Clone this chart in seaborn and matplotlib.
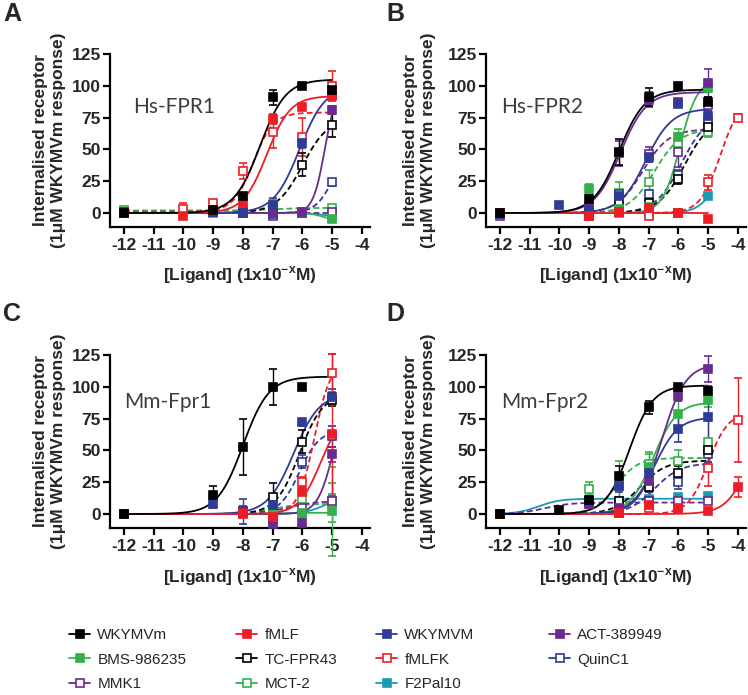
import numpy as np
import seaborn as sns
import matplotlib.pyplot as plt
from matplotlib.lines import Line2D

nan = np.nan

# log10 molar concentrations used in the assays
DOSES = [-12, -10, -9, -8, -7, -6, -5, -4]

LIGANDS = ["WKYMVm", "fMLF", "WKYMVM", "ACT-389949", "BMS-986235", "TC-FPR43",
           "fMLFK", "QuinC1", "MMK1", "MCT-2", "F2Pal10"]

# ---- Hs-FPR1 -------------------------------------------------------------
hs_fpr1_mean = {
    "WKYMVm":     [0, nan, 2, 13, 91, 100, 97, nan],
    "fMLF":       [0, -2, 2, 8, 74, 83, 92, nan],
    "WKYMVM":     [0, nan, 1, 0, 6, 55, 93, nan],
    "ACT-389949": [1, nan, 1, 0, 0, 1, 81, nan],
    "BMS-986235": [0, nan, 1, 1, 7, 1, -5, nan],
    "TC-FPR43":   [0, nan, 1, 1, 4, 38, 69, nan],
    "fMLFK":      [1, 3, 8, 33, 64, 60, 100, nan],
    "QuinC1":     [0, nan, 1, 0, -1, 0, 24, nan],
    "MMK1":       [1, nan, 1, 0, -2, 1, 1, nan],
    "MCT-2":      [2, nan, 2, 2, 3, 1, 4, nan],
    "F2Pal10":    [0, nan, 0, 0, -1, 0, -3, nan],
}
hs_fpr1_err = {
    "WKYMVm":     [1, 0, 1, 3, 6, 2, 3, 0],
    "fMLF":       [1, 2, 1, 3, 4, 2, 3, 0],
    "WKYMVM":     [1, 0, 1, 1, 6, 4, 3, 0],
    "ACT-389949": [1, 0, 1, 1, 1, 1, 3, 0],
    "BMS-986235": [1, 0, 1, 1, 3, 1, 2, 0],
    "TC-FPR43":   [1, 0, 1, 1, 2, 9, 9, 0],
    "fMLFK":      [1, 5, 2, 6, 13, 15, 12, 0],
    "QuinC1":     [1, 0, 1, 1, 1, 1, 3, 0],
    "MMK1":       [1, 0, 1, 1, 1, 1, 1, 0],
    "MCT-2":      [1, 0, 1, 1, 1, 1, 2, 0],
    "F2Pal10":    [1, 0, 1, 1, 1, 1, 1, 0],
}
# bottom, top, logEC50, hill
hs_fpr1_fit = {
    "WKYMVm":     (0, 105, -7.43, 1.0),
    "fMLF":       (0, 92, -7.2, 1.1),
    "WKYMVM":     (0, 100, -6.1, 1.0),
    "ACT-389949": (0, 100, -5.25, 2.2),
    "BMS-986235": (0, -6, -5.3, 2.0),
    "TC-FPR43":   (0, 75, -6.0, 1.0),
    "fMLFK":      (1, 79, -7.65, 1.3),
    "QuinC1":     (0, 50, -5.0, 1.5),
    "MMK1":       (0, 0, -7.0, 1.0),
    "MCT-2":      (2, 4, -7.0, 1.0),
    "F2Pal10":    (0, -3, -5.3, 1.5),
}

# ---- Hs-FPR2 -------------------------------------------------------------
hs_fpr2_mean = {
    "WKYMVm":     [0, nan, 11, 48, 91, 100, 87, nan],
    "fMLF":       [0, nan, -2, 1, 4, 0, -5, nan],
    "WKYMVM":     [-1, 6, 2, 13, 44, 86, 76, nan],
    "ACT-389949": [-1, nan, 5, 47, 89, 87, 102, nan],
    "BMS-986235": [0, nan, 19, 3, 5, 60, 98, nan],
    "TC-FPR43":   [0, nan, 1, 8, 8, 27, 68, nan],
    "fMLFK":      [0, nan, -2, 1, -2, 0, 24, 75],
    "QuinC1":     [0, nan, 1, 15, 15, 30, 72, nan],
    "MMK1":       [-2, nan, -2, 12, 46, 48, 85, nan],
    "MCT-2":      [0, nan, 2, 16, 24, 55, 64, nan],
    "F2Pal10":    [0, nan, 0, 0, -1, 0, 13, nan],
}
hs_fpr2_err = {
    "WKYMVm":     [1, 0, 3, 10, 7, 2, 4, 0],
    "fMLF":       [1, 0, 1, 1, 2, 1, 1, 0],
    "WKYMVM":     [1, 0, 2, 3, 4, 3, 4, 0],
    "ACT-389949": [1, 0, 2, 10, 6, 3, 11, 0],
    "BMS-986235": [1, 0, 4, 2, 2, 6, 3, 0],
    "TC-FPR43":   [1, 0, 1, 1, 2, 4, 5, 0],
    "fMLFK":      [1, 0, 1, 1, 2, 1, 6, 3],
    "QuinC1":     [1, 0, 1, 3, 3, 4, 4, 0],
    "MMK1":       [1, 0, 1, 3, 6, 12, 5, 0],
    "MCT-2":      [1, 0, 1, 8, 10, 8, 4, 0],
    "F2Pal10":    [1, 0, 1, 1, 1, 1, 1, 0],
}
hs_fpr2_fit = {
    "WKYMVm":     (0, 97, -8.0, 1.0),
    "fMLF":       (0, 0, -7.0, 1.0),
    "WKYMVM":     (0, 82, -7.1, 1.0),
    "ACT-389949": (0, 95, -7.95, 1.0),
    "BMS-986235": (0, 105, -5.95, 1.5),
    "TC-FPR43":   (0, 75, -5.8, 1.0),
    "fMLFK":      (0, 90, -4.6, 1.3),
    "QuinC1":     (0, 78, -5.9, 1.0),
    "MMK1":       (0, 66, -7.2, 1.0),
    "MCT-2":      (0, 66, -6.8, 1.0),
    "F2Pal10":    (0, 30, -4.9, 1.5),
}

# ---- Mm-Fpr1 -------------------------------------------------------------
mm_fpr1_mean = {
    "WKYMVm":     [0, nan, 15, 53, 100, 100, nan, nan],
    "fMLF":       [0, nan, nan, 1, -2, 17, 63, nan],
    "WKYMVM":     [0, nan, 8, 2, 7, 72, 92, nan],
    "ACT-389949": [0, nan, nan, 1, -8, -7, 47, nan],
    "BMS-986235": [0, nan, nan, 1, 2, 1, 2, nan],
    "TC-FPR43":   [0, nan, nan, 1, 13, 57, 90, nan],
    "fMLFK":      [0, nan, nan, 0, -1, 25, 111, nan],
    "QuinC1":     [0, nan, nan, 2, -5, 41, 61, nan],
    "MMK1":       [0, nan, nan, 1, -3, 5, 10, nan],
    "MCT-2":      [0, nan, nan, 1, 3, 12, 9, nan],
    "F2Pal10":    [0, nan, nan, 1, 0, 0, 10, nan],
}
mm_fpr1_err = {
    "WKYMVm":     [1, 0, 7, 22, 14, 1, 0, 0],
    "fMLF":       [1, 0, 0, 1, 2, 4, 63, 0],
    "WKYMVM":     [1, 0, 3, 10, 5, 3, 6, 0],
    "ACT-389949": [1, 0, 0, 1, 2, 2, 6, 0],
    "BMS-986235": [1, 0, 0, 1, 2, 2, 35, 0],
    "TC-FPR43":   [1, 0, 0, 1, 11, 9, 5, 0],
    "fMLFK":      [1, 0, 0, 1, 1, 4, 15, 0],
    "QuinC1":     [1, 0, 0, 4, 2, 5, 8, 0],
    "MMK1":       [1, 0, 0, 1, 1, 2, 4, 0],
    "MCT-2":      [1, 0, 0, 1, 2, 10, 15, 0],
    "F2Pal10":    [1, 0, 0, 1, 1, 1, 6, 0],
}
mm_fpr1_fit = {
    "WKYMVm":     (0, 108, -8.0, 1.0),
    "fMLF":       (0, 80, -5.4, 1.2),
    "WKYMVM":     (0, 95, -6.3, 1.0),
    "ACT-389949": (0, 100, -4.95, 1.6),
    "BMS-986235": (0, 1, -7.0, 1.0),
    "TC-FPR43":   (0, 95, -6.1, 1.1),
    "fMLFK":      (0, 120, -5.6, 1.6),
    "QuinC1":     (0, 66, -6.1, 1.3),
    "MMK1":       (0, 10, -6.5, 1.0),
    "MCT-2":      (0, 8, -7.0, 1.0),
    "F2Pal10":    (0, 15, -5.2, 1.2),
}

# ---- Mm-Fpr2 -------------------------------------------------------------
mm_fpr2_mean = {
    "WKYMVm":     [0, 3, 11, 30, 84, 100, 97, nan],
    "fMLF":       [0, nan, nan, 1, 7, 4, 2, 21],
    "WKYMVM":     [0, nan, 10, 22, 32, 67, 76, nan],
    "ACT-389949": [0, nan, 8, 5, 26, 93, 114, nan],
    "BMS-986235": [0, nan, 10, 22, 37, 79, 90, nan],
    "TC-FPR43":   [0, nan, nan, 10, 21, 32, 50, nan],
    "fMLFK":      [0, nan, nan, 1, 5, 5, 36, 74],
    "QuinC1":     [0, nan, nan, 8, 10, 25, 47, nan],
    "MMK1":       [0, nan, 8, 8, 10, 10, 10, nan],
    "MCT-2":      [0, nan, 20, 22, 39, 42, 57, nan],
    "F2Pal10":    [0, nan, nan, 10, 12, 13, 14, nan],
}
mm_fpr2_err = {
    "WKYMVm":     [1, 1, 3, 8, 5, 2, 2, 0],
    "fMLF":       [1, 0, 0, 1, 2, 2, 1, 8],
    "WKYMVM":     [1, 0, 2, 5, 5, 10, 25, 0],
    "ACT-389949": [1, 0, 2, 2, 9, 4, 10, 0],
    "BMS-986235": [1, 0, 2, 10, 10, 10, 6, 0],
    "TC-FPR43":   [1, 0, 0, 3, 4, 6, 5, 0],
    "fMLFK":      [1, 0, 0, 1, 2, 3, 14, 33],
    "QuinC1":     [1, 0, 0, 3, 3, 5, 6, 0],
    "MMK1":       [1, 0, 1, 1, 2, 2, 2, 0],
    "MCT-2":      [1, 0, 5, 20, 10, 8, 16, 0],
    "F2Pal10":    [1, 0, 0, 2, 2, 2, 2, 0],
}
mm_fpr2_fit = {
    "WKYMVm":     (0, 101, -7.65, 1.1),
    "fMLF":       (0, 100, -3.5, 1.1),
    "WKYMVM":     (0, 76, -6.8, 1.1),
    "ACT-389949": (0, 118, -6.55, 1.1),
    "BMS-986235": (0, 88, -6.85, 1.1),
    "TC-FPR43":   (0, 42, -7.3, 1.0),
    "fMLFK":      (0, 80, -5.0, 1.3),
    "QuinC1":     (0, 40, -6.8, 1.0),
    "MMK1":       (0, 9, -10.5, 1.0),
    "MCT-2":      (0, 44, -8.1, 1.2),
    "F2Pal10":    (0, 12, -10.7, 1.2),
}

# style per ligand: colour, filled symbol (solid fit) or open symbol (dashed fit)
COLORS = {
    "WKYMVm": "#000000", "fMLF": "#ee1c25", "WKYMVM": "#2e3b97",
    "ACT-389949": "#6b2a8f", "BMS-986235": "#36b04a", "TC-FPR43": "#000000",
    "fMLFK": "#ee1c25", "QuinC1": "#2e3b97", "MMK1": "#6b2a8f",
    "MCT-2": "#36b04a", "F2Pal10": "#1b9bb3",
}
FILLED = {"WKYMVm", "fMLF", "WKYMVM", "ACT-389949", "BMS-986235", "F2Pal10"}

W, H = 748, 695


def logistic(x, bottom, top, logec50, hill):
    return bottom + (top - bottom) / (1 + 10 ** ((logec50 - x) * hill))


def draw_panel(rect, mean, err, fit, name, name_xy, letter, letter_xy, ylab_x, xlab_y):
    left, top_px = rect
    ax = fig.add_axes([left / W, 1 - (top_px + 173) / H, 260 / W, 173 / H])
    doses = np.array(DOSES, dtype=float)
    for lig in LIGANDS[::-1]:
        c = COLORS[lig]
        y = np.array(mean[lig], dtype=float)
        e = np.array(err[lig], dtype=float)
        ok = ~np.isnan(y)
        xs = np.linspace(-12, max(-5.0, doses[ok].max()), 300)
        ys = logistic(xs, *fit[lig])
        ls = "-" if lig in FILLED else (0, (3.2, 1.8))
        sns.lineplot(x=xs, y=ys, ax=ax, color=c, lw=1.3, linestyle=ls,
                     legend=False, zorder=2)
        cont = ax.errorbar(doses[ok], y[ok], yerr=e[ok], fmt="s", ms=5.5,
                           mfc=c if lig in FILLED else "white", mec=c, mew=1.2,
                           ecolor=c, elinewidth=1.0, capsize=3, capthick=1.0,
                           zorder=3, clip_on=False)
        for art in list(cont.lines[1]) + list(cont.lines[2]):
            art.set_clip_on(False)

    ax.set_xlim(-12.47, -3.73)
    ax.set_ylim(-11, 125)
    ax.set_xticks(range(-12, -3))
    ax.set_yticks([0, 25, 50, 75, 100, 125])
    for s in ["top", "right"]:
        ax.spines[s].set_visible(False)
    for s in ["left", "bottom"]:
        ax.spines[s].set_linewidth(1.6)
        ax.spines[s].set_color("black")
    ax.tick_params(width=1.6, length=5, color="black", labelsize=12.5,
                   direction="out")
    ax.tick_params(axis="y", pad=1.5)
    ax.tick_params(axis="x", pad=3)
    for t in ax.get_xticklabels() + ax.get_yticklabels():
        t.set_fontweight("bold")
    ax.set_xlabel("")
    ax.set_ylabel("")
    ax.grid(False)
    ax.set_facecolor("white")

    ax.text(name_xy[0], name_xy[1], name, family="Lato", fontsize=15,
            color="#3c3c3c", ha="left", va="center")
    fig.text(letter_xy[0] / W, 1 - letter_xy[1] / H, letter, fontsize=18,
             fontweight="bold", ha="center", va="center")
    fig.text(ylab_x / W, 1 - (top_px + 86) / H,
             "Internalised receptor\n(1\u03bcM WKYMVm response)",
             rotation=90, fontsize=12.5, fontweight="bold", ha="center",
             va="center", linespacing=1.25)
    fig.text((left + 130) / W, 1 - xlab_y / H,
             r"[Ligand] (1x10$^{\mathbf{-x}}$M)", fontsize=12.5,
             fontweight="bold", ha="center", va="center")
    return ax


sns.set_theme(style="ticks")
plt.rcParams["font.family"] = ["Liberation Sans", "DejaVu Sans"]
plt.rcParams["mathtext.fontset"] = "custom"
plt.rcParams["mathtext.bf"] = "Liberation Sans:bold"
plt.rcParams["mathtext.rm"] = "Liberation Sans"
plt.rcParams["axes.unicode_minus"] = False

fig = plt.figure(figsize=(W / 100, H / 100), dpi=100)
fig.patch.set_facecolor("white")

draw_panel((110, 54), hs_fpr1_mean, hs_fpr1_err, hs_fpr1_fit, "Hs-FPR1",
           (-11.7, 83), "A", (12, 14), 50, 275)
draw_panel((486, 54), hs_fpr2_mean, hs_fpr2_err, hs_fpr2_fit, "Hs-FPR2",
           (-11.95, 83), "B", (395, 14), 420, 275)
draw_panel((110, 355), mm_fpr1_mean, mm_fpr1_err, mm_fpr1_fit, "Mm-Fpr1",
           (-12.0, 88), "C", (12, 314), 50, 577)
draw_panel((486, 355), mm_fpr2_mean, mm_fpr2_err, mm_fpr2_fit, "Mm-Fpr2",
           (-11.95, 88), "D", (395, 314), 420, 577)

# legend laid out in four fixed columns, as in the figure
columns = [["WKYMVm", "BMS-986235", "MMK1"],
           ["fMLF", "TC-FPR43", "MCT-2"],
           ["WKYMVM", "fMLFK", "F2Pal10"],
           ["ACT-389949", "QuinC1"]]
col_x = [69, 236, 376, 549]
for names, x0 in zip(columns, col_x):
    handles = [Line2D([], [], color=COLORS[n], lw=1.3, marker="s", ms=5.5,
                      mfc=COLORS[n] if n in FILLED else "white",
                      mec=COLORS[n], mew=1.2, label=n) for n in names]
    fig.legend(handles=handles, loc="upper left",
               bbox_to_anchor=(x0 / W, 1 - 628 / H), frameon=False,
               fontsize=11, handlelength=1.4, handletextpad=0.45,
               labelspacing=0.7, borderpad=0, borderaxespad=0)

fig.savefig("out.png", dpi=100, facecolor="white")
